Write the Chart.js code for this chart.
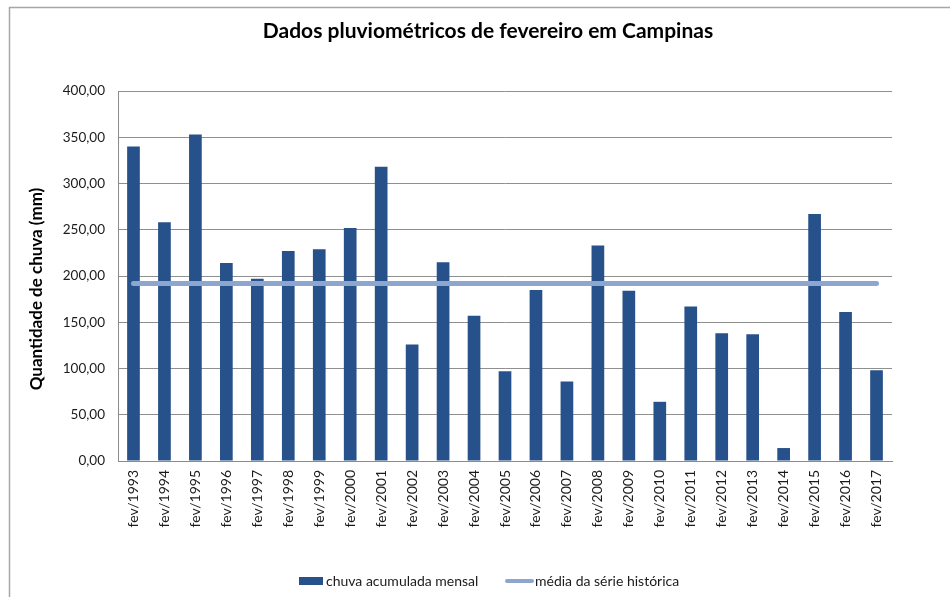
<!DOCTYPE html>
<html>
<head>
<meta charset="utf-8">
<script src="https://cdn.jsdelivr.net/npm/chart.js@4"></script>
<style>
    html, body { margin: 0; padding: 0; background: #ffffff; }
    #wrap { position: relative; width: 950px; height: 597px; overflow: hidden; }
</style>
</head>
<body>
<div id="wrap"><canvas id="grafico" width="950" height="597"></canvas></div>
<script>
const anos = ['fev/1993', 'fev/1994', 'fev/1995', 'fev/1996', 'fev/1997', 'fev/1998', 'fev/1999',
    'fev/2000', 'fev/2001', 'fev/2002', 'fev/2003', 'fev/2004', 'fev/2005', 'fev/2006', 'fev/2007',
    'fev/2008', 'fev/2009', 'fev/2010', 'fev/2011', 'fev/2012', 'fev/2013', 'fev/2014', 'fev/2015',
    'fev/2016', 'fev/2017'];

const chuvaMensal = [340, 258, 353, 214, 197, 227, 229, 252, 318, 126, 215, 157, 97, 185, 86,
    233, 184, 64, 167, 138, 137, 14, 267, 161, 98];

const mediaHistorica = [192, 192, 192, 192, 192, 192, 192, 192, 192, 192, 192, 192, 192, 192, 192,
    192, 192, 192, 192, 192, 192, 192, 192, 192, 192];

const tituloGrafico = 'Dados pluviométricos de fevereiro em Campinas';
const tituloEixoY = 'Quantidade de chuva (mm)';
const nomesSeries = ['chuva acumulada mensal', 'média da série histórica'];

const corBarra = '#27518a';
const corLinha = '#8da6cf';
const fonte = 'Lato, "Open Sans", sans-serif';

// moldura, titulos e legenda desenhados por fora das escalas
const decoracao = {
    id: 'decoracao',
    beforeDraw(chart) {
        const ctx = chart.ctx;
        ctx.save();
        ctx.strokeStyle = '#a6a6a6';
        ctx.lineWidth = 1.5;
        ctx.beginPath();
        ctx.moveTo(9.5, 600);
        ctx.lineTo(9.5, 7.5);
        ctx.lineTo(960, 7.5);
        ctx.stroke();
        ctx.restore();
    },
    afterDraw(chart) {
        const ctx = chart.ctx;
        ctx.save();
        ctx.fillStyle = '#000000';
        ctx.font = 'bold 21px ' + fonte;
        ctx.textAlign = 'center';
        ctx.textBaseline = 'middle';
        ctx.fillText(tituloGrafico, 488, 31);

        ctx.save();
        ctx.translate(37, 289);
        ctx.rotate(-Math.PI / 2);
        ctx.font = 'bold 17px ' + fonte;
        ctx.fillText(tituloEixoY, 0, 0);
        ctx.restore();

        ctx.font = '14px ' + fonte;
        ctx.textAlign = 'left';
        ctx.fillStyle = corBarra;
        ctx.fillRect(299, 577, 24, 8);
        ctx.fillStyle = '#1a1a1a';
        ctx.fillText(nomesSeries[0], 326, 581);

        ctx.strokeStyle = corLinha;
        ctx.lineWidth = 4;
        ctx.lineCap = 'round';
        ctx.beginPath();
        ctx.moveTo(507, 581);
        ctx.lineTo(532, 581);
        ctx.stroke();
        ctx.fillText(nomesSeries[1], 535, 581);
        ctx.restore();
    }
};

new Chart(document.getElementById('grafico'), {
    data: {
        labels: anos,
        datasets: [
            {
                type: 'line',
                label: nomesSeries[1],
                data: mediaHistorica,
                borderColor: corLinha,
                borderWidth: 5,
                borderCapStyle: 'round',
                pointRadius: 0,
                fill: false,
                order: 0
            },
            {
                type: 'bar',
                label: nomesSeries[0],
                data: chuvaMensal,
                backgroundColor: corBarra,
                borderWidth: 0,
                barPercentage: 0.41,
                categoryPercentage: 1,
                order: 1
            }
        ]
    },
    options: {
        responsive: false,
        animation: false,
        devicePixelRatio: 1,
        layout: { padding: { top: 91, left: 20, right: 58, bottom: 0 } },
        plugins: {
            legend: { display: false },
            title: { display: false },
            tooltip: { enabled: false }
        },
        scales: {
            x: {
                offset: true,
                grid: { display: false, drawTicks: false },
                border: { color: '#8c8c8c', width: 1 },
                ticks: {
                    autoSkip: false,
                    minRotation: 90,
                    maxRotation: 90,
                    padding: 9,
                    color: '#1a1a1a',
                    font: { family: fonte, size: 14 }
                },
                afterFit(scale) { scale.height = 136; }
            },
            y: {
                min: 0,
                max: 400,
                grid: { color: '#8f8f8f', drawTicks: false },
                border: { color: '#8c8c8c', width: 1 },
                ticks: {
                    stepSize: 50,
                    padding: 13,
                    color: '#1a1a1a',
                    font: { family: fonte, size: 13.5 },
                    callback: v => v.toFixed(2).replace('.', ',')
                },
                afterFit(scale) { scale.width = 98; }
            }
        }
    },
    plugins: [decoracao]
});
</script>
</body>
</html>
